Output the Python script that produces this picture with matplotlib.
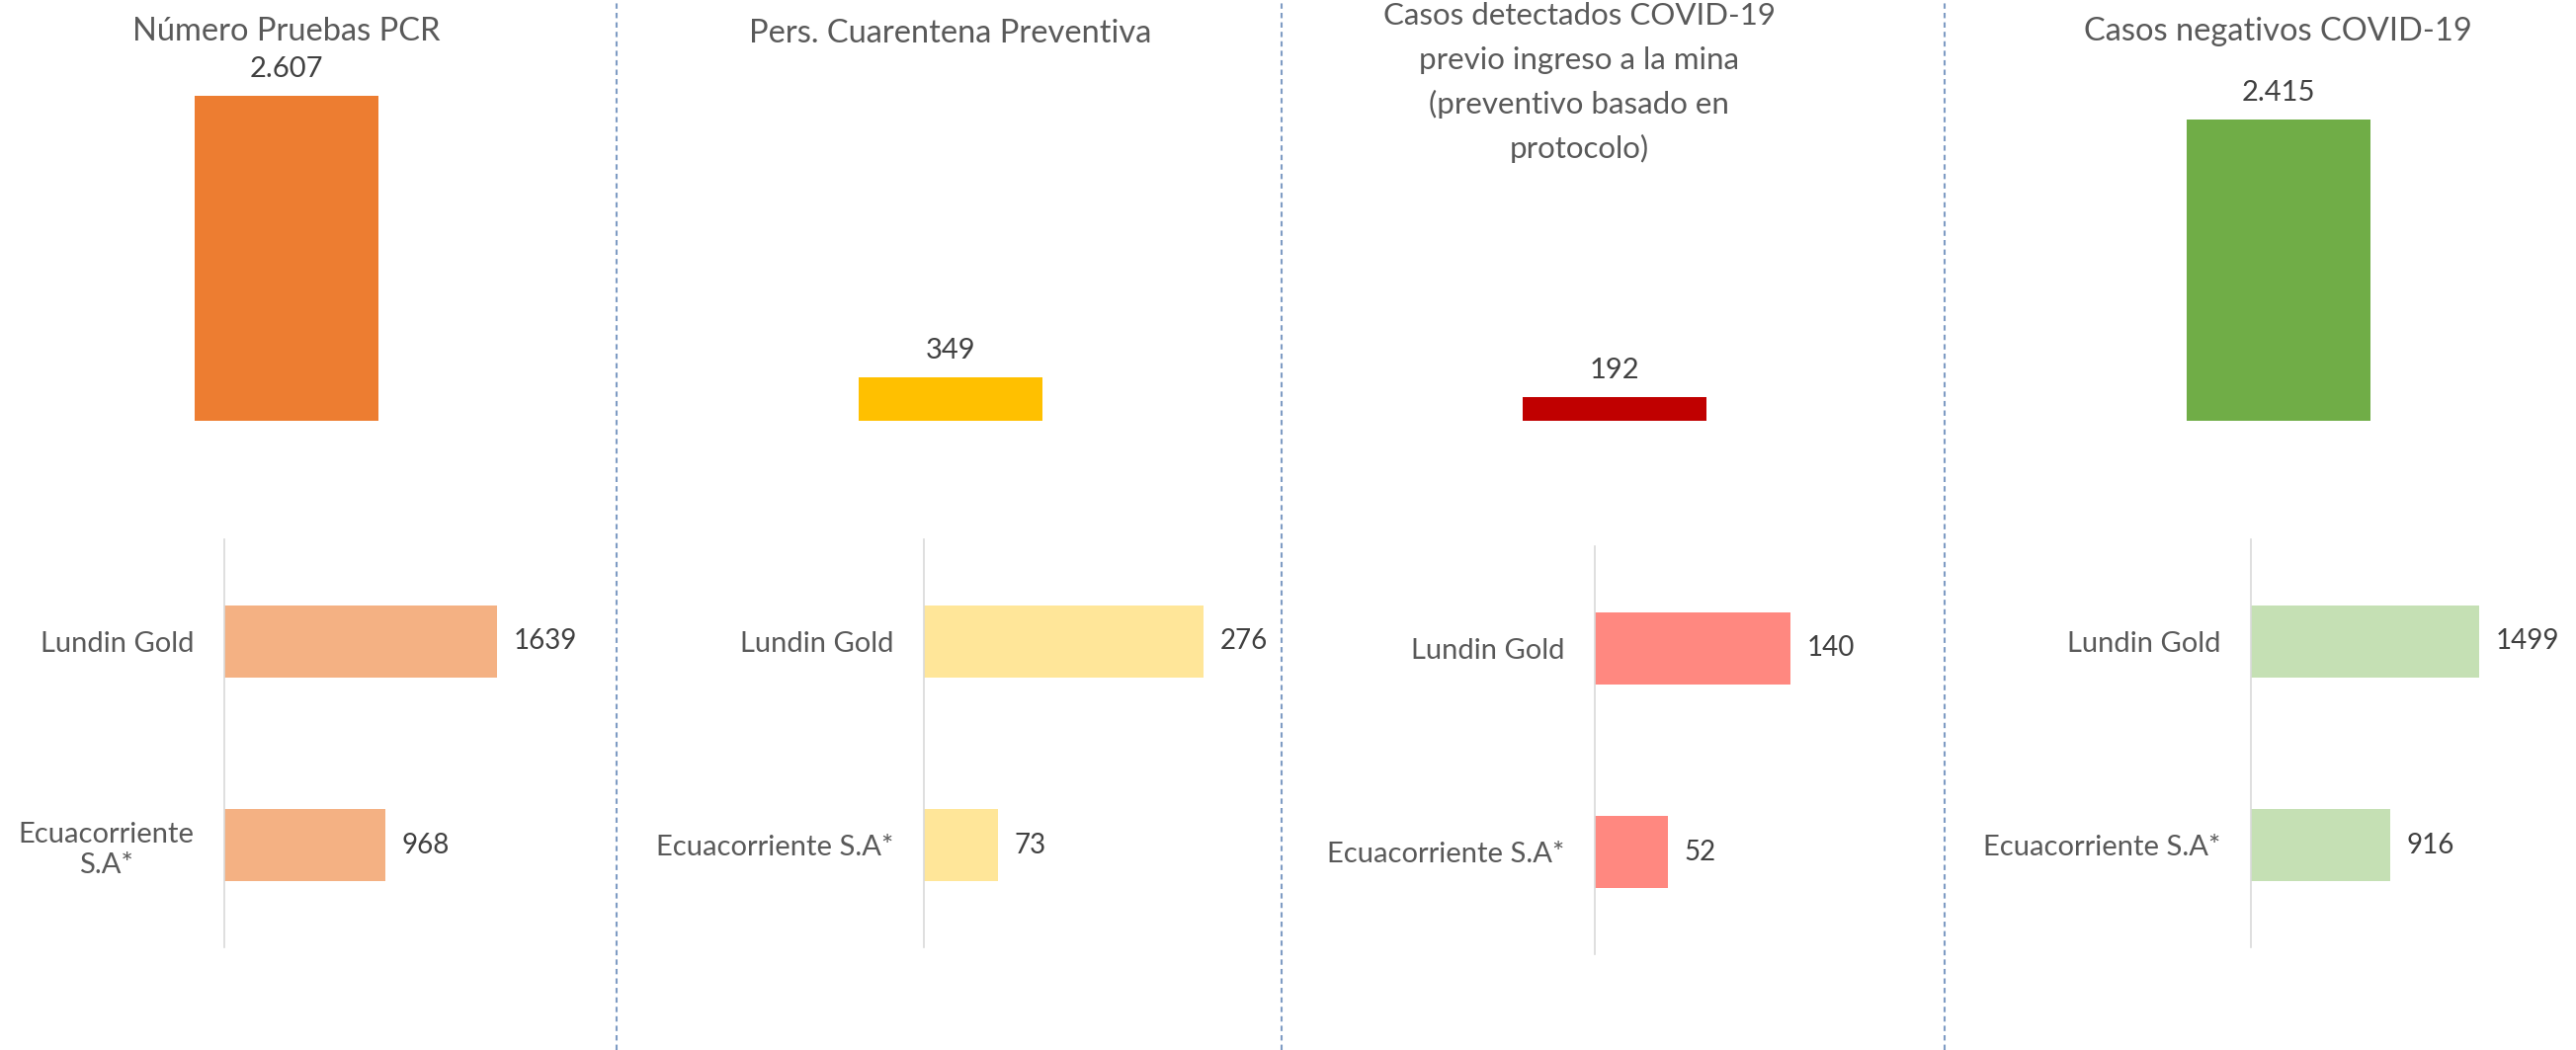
import matplotlib
matplotlib.use("Agg")
import matplotlib.pyplot as plt
from matplotlib.lines import Line2D

# datos
titles = ["Número Pruebas PCR",
          "Pers. Cuarentena Preventiva",
          "Casos detectados COVID-19\nprevio ingreso a la mina\n(preventivo basado en\nprotocolo)",
          "Casos negativos COVID-19"]
totals = [2607, 349, 192, 2415]
companies = ["Lundin Gold", "Ecuacorriente S.A*"]
lundin_gold = [1639, 276, 140, 1499]
ecuacorriente = [968, 73, 52, 916]

main_colors = ["#ED7D31", "#FFC000", "#C00000", "#70AD47"]
light_colors = ["#F4B183", "#FFE699", "#FF8880", "#C5E0B4"]

plt.rcParams['font.family'] = ['Lato', 'DejaVu Sans']

W, H = 2607, 1063
fig = plt.figure(figsize=(W / 100, H / 100), dpi=100)


def fx(px):
    return px / W


def fy(px):
    return 1 - px / H


# barras de totales (misma escala para los 4)
ax_top = fig.add_axes([0, fy(426), 1, 426 / H])
bars = ax_top.bar(range(len(totals)), totals, width=0.278, color=main_colors)
ax_top.set_xlim(-290 / 672, (W - 290) / 672)
ax_top.set_ylim(0, 3376)
ax_top.axis('off')
ax_top.bar_label(bars, labels=[f"{v:,}".replace(",", ".") for v in totals],
                 padding=10, fontsize=21, color='#404040')

# titulos, linea por linea
title_x = [290, 962, 1598, 2305]
title_y = [41, 43, 25, 41]
title_size = [23.5, 23.5, 22.5, 23.5]
for t, xx, yy, fs in zip(titles, title_x, title_y, title_size):
    for k, line in enumerate(t.split("\n")):
        fig.text(fx(xx), fy(yy + 45 * k), line, ha='center', va='baseline',
                 fontsize=fs, color='#595959')

# barras por empresa
low_left = [227, 935, 1614, 2278]
low_top = [546, 546, 553, 546]
low_h = 413
low_w = 300
xmax = [1782, 293, 212, 1947]
for i in range(4):
    ax = fig.add_axes([fx(low_left[i]), fy(low_top[i] + low_h), fx(low_w), low_h / H])
    vals = [lundin_gold[i], ecuacorriente[i]]
    b = ax.barh([0, 1], vals, height=0.354, color=light_colors[i])
    ax.set_ylim(1.5, -0.5)
    ax.set_xlim(0, xmax[i])
    labels = companies if i else [c.replace(" S.A*", "\nS.A*") for c in companies]
    ax.set_yticks([0, 1], labels)
    ax.set_xticks([])
    ax.tick_params(axis='y', length=0, pad=22, labelsize=21, labelcolor='#595959')
    for lab in ax.get_yticklabels():
        lab.set_multialignment('center')
        lab.set_linespacing(1.25)
    for s in ['top', 'right', 'bottom']:
        ax.spines[s].set_visible(False)
    ax.spines['left'].set_color('#D9D9D9')
    ax.spines['left'].set_linewidth(1.2)
    ax.patch.set_alpha(0)
    ax.bar_label(b, padding=12, fontsize=20, color='#404040')

# separadores punteados
for sx in [624, 1297, 1968]:
    fig.add_artist(Line2D([fx(sx), fx(sx)], [0, 1], transform=fig.transFigure,
                          color='#7F9CC4', lw=1.5, linestyle=(0, (2.6, 2.0))))

fig.savefig("out.png", dpi=100, facecolor='white')
